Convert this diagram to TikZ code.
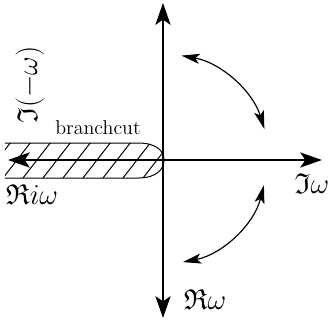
\documentclass[tikz,border=0pt]{standalone}
\usepackage{amsmath}
\usepackage{amssymb}
\usepackage{tikz}
\usetikzlibrary{arrows.meta,calc}

\begin{document}
\begin{tikzpicture}[x=0.6pt,y=0.6pt,
  ax/.style={line width=1.5pt,-{Stealth[length=13pt,width=9pt,inset=3pt]}},
  swing/.style={line width=0.7pt,{Stealth[length=11pt,width=6pt,inset=2.5pt]}-{Stealth[length=11pt,width=6pt,inset=2.5pt]}},
  cut/.style={line width=0.6pt},
  lbl/.style={inner sep=0pt,font=\LARGE}
]
\useasboundingbox (-163,-163) rectangle (169,160);
\coordinate (O) at (0,0);
\coordinate (top) at (0,157);
\coordinate (bot) at (0,-158);
\coordinate (lft) at (-155,0);
\coordinate (rgt) at (159,0);

% branch cut, hatched
\begin{scope}
  \clip (-158,17) -- (-25,17) .. controls (-5,17) and (1,8) .. (1,0)
        .. controls (1,-8) and (-5,-18) .. (-25,-18) -- (-158,-18) -- cycle;
  \foreach \x in {-180,-160,...,0}
    \draw[cut] (\x,-18) -- ++(28,36);
\end{scope}
\draw[cut] (-158,17) -- (-25,17) .. controls (-5,17) and (1,8) .. (1,0)
      .. controls (1,-8) and (-5,-18) .. (-25,-18) -- (-158,-18);

% axes
\draw[ax] (O) -- (top);
\draw[ax] (O) -- (bot);
\draw[ax] (O) -- (lft);
\draw[ax] (O) -- (rgt);

% rotations
\coordinate (upA) at (80:106);
\coordinate (loA) at (-14:104);
\draw[swing] (upA) arc[start angle=80,end angle=17,radius=106];
\draw[swing] (loA) arc[start angle=-14,end angle=-79,radius=104];

% labels
\node[lbl,rotate=90] (imneg) at (-133,75) {$\mathfrak{I}(-\omega)$};
\node[inner sep=0pt,font=\large] (bc) at (-65,32) {branchcut};
\node[lbl] (reiw) at (-131,-35) {$\mathfrak{R}i\omega$};
\node[lbl] (imw) at (149,-24) {$\mathfrak{I}\omega$};
\node[lbl] (rew) at (42,-140) {$\mathfrak{R}\omega$};
\end{tikzpicture}
\end{document}
